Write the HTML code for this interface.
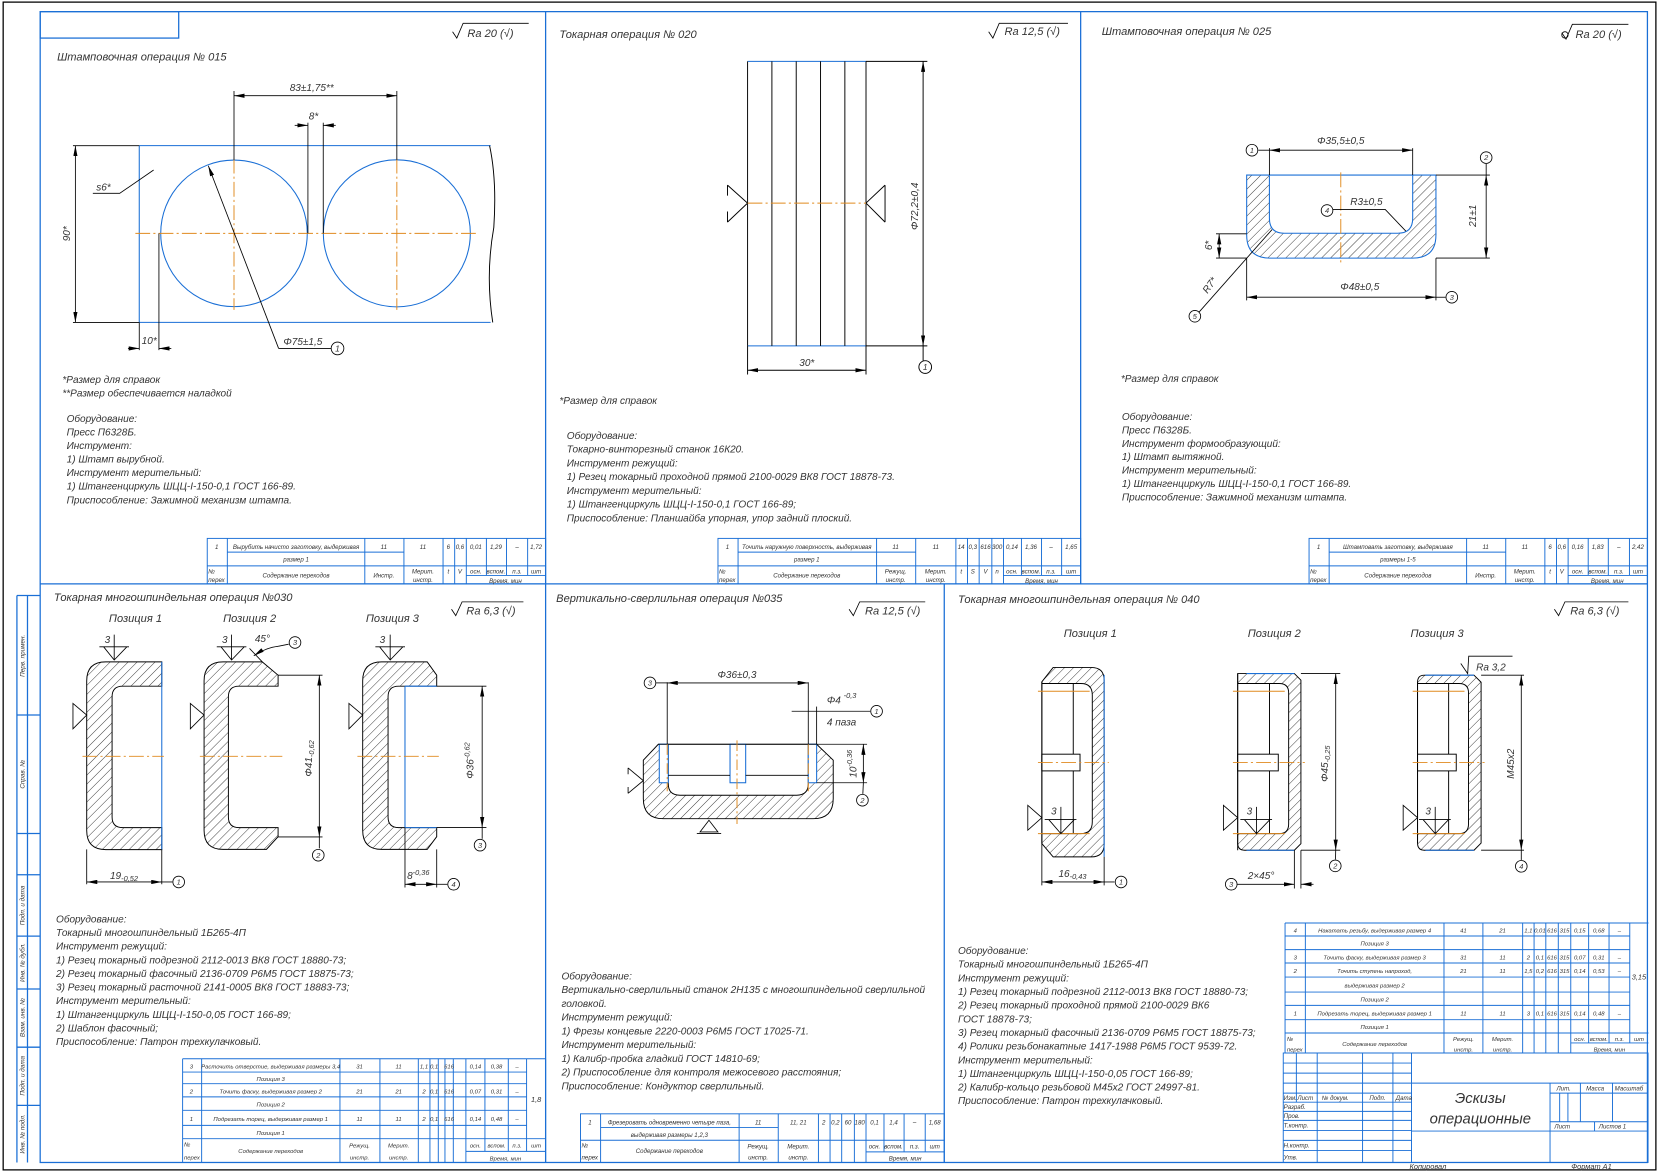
<!DOCTYPE html>
<html><head><meta charset="utf-8"><style>
html,body{margin:0;padding:0;background:#fff;}
svg{display:block;}
text{font-family:"Liberation Sans Narrow","Liberation Sans",sans-serif;font-style:italic;fill:#333;}
</style></head><body>
<svg width="1658" height="1172" viewBox="0 0 1568 1108" preserveAspectRatio="none" xmlns="http://www.w3.org/2000/svg">
<defs>
<pattern id="h" width="6" height="6" patternUnits="userSpaceOnUse" patternTransform="rotate(45)"><line x1="0" y1="0" x2="0" y2="6" stroke="#000" stroke-width="0.7"/></pattern>
<marker id="a" viewBox="0 0 10 4" refX="10" refY="2" markerWidth="10" markerHeight="4" markerUnits="userSpaceOnUse" orient="auto-start-reverse"><path d="M0,0 L10,2 L0,4 Z" fill="#000"/></marker>
</defs>
<rect x="0" y="0" width="1568" height="1108" fill="#fff"/>
<rect x="3" y="2" width="1563" height="1104" fill="none" stroke="#000" stroke-width="1.2"/>
<g stroke="#1a6fd6" stroke-width="1.2" fill="none">
<rect x="38" y="11" width="1520" height="1088"/>
<rect x="38" y="11" width="131" height="25"/>
<line x1="38" y1="552" x2="1558" y2="552"/>
<line x1="516" y1="11" x2="516" y2="1099"/>
<line x1="1022" y1="11" x2="1022" y2="552"/>
<line x1="893" y1="552" x2="893" y2="1099"/>
<line x1="16" y1="563" x2="38" y2="563"/>
<line x1="16" y1="563" x2="16" y2="1099"/>
<line x1="26" y1="563" x2="26" y2="1099"/>
<line x1="16" y1="676" x2="38" y2="676"/>
<line x1="16" y1="788" x2="38" y2="788"/>
<line x1="16" y1="827" x2="38" y2="827"/>
<line x1="16" y1="885" x2="38" y2="885"/>
<line x1="16" y1="935" x2="38" y2="935"/>
<line x1="16" y1="990" x2="38" y2="990"/>
<line x1="16" y1="1045" x2="38" y2="1045"/>
</g>
<g font-size="6">
<text transform="rotate(-90 23 620)" x="23" y="620" text-anchor="middle">Перв. примен.</text>
<text transform="rotate(-90 23 732)" x="23" y="732" text-anchor="middle">Справ. №</text>
<text transform="rotate(-90 23 856)" x="23" y="856" text-anchor="middle">Подп. и дата</text>
<text transform="rotate(-90 23 910)" x="23" y="910" text-anchor="middle">Инв. № дубл.</text>
<text transform="rotate(-90 23 962)" x="23" y="962" text-anchor="middle">Взам. инв. №</text>
<text transform="rotate(-90 23 1017)" x="23" y="1017" text-anchor="middle">Подп. и дата</text>
<text transform="rotate(-90 23 1072)" x="23" y="1072" text-anchor="middle">Инв. № подл.</text>
</g>

<g stroke="#000" stroke-width="0.8" fill="none">
<path d="M428,30 L432,36 L438,22 L500,22"/>
<path d="M935,30 L939,36 L945,22 L1010,22"/>
<path d="M1477,31 L1481,37 L1487,23 L1540,23"/><circle cx="1480" cy="33" r="3"/>
<path d="M427,576 L431,582 L437,569 L495,569"/>
<path d="M803,576 L807,582 L813,569 L875,569"/>
<path d="M1470,576 L1474,582 L1480,569 L1540,569"/>
</g>
<g font-size="10.5">
<text x="442" y="35">Ra 20 (√)</text>
<text x="950" y="33">Ra 12,5 (√)</text>
<text x="1490" y="36">Ra 20 (√)</text>
<text x="441" y="581">Ra 6,3 (√)</text>
<text x="818" y="581">Ra 12,5 (√)</text>
<text x="1485" y="581">Ra 6,3 (√)</text>
</g>

<!-- ===== Section 1 ===== -->
<text x="54" y="57" font-size="10.5">Штамповочная операция № 015</text>
<g fill="none">
<path d="M131.7,137.7 L464,137.7 M131.7,304.8 L464,304.8 M131.7,137.7 L131.7,304.8" stroke="#1a6fd6" stroke-width="1"/>
<path d="M463,137.7 Q470,170 467,215 Q459,260 466,304.8" stroke="#000" stroke-width="0.9"/>
<circle cx="221.3" cy="220.6" r="69.3" stroke="#1a6fd6" stroke-width="1"/>
<circle cx="375.3" cy="220.6" r="69.5" stroke="#1a6fd6" stroke-width="1"/>
<g stroke="#e08a1e" stroke-width="0.9" stroke-dasharray="14 3 2 3">
<line x1="128" y1="220.6" x2="452.6" y2="220.6"/>
<line x1="221.3" y1="150" x2="221.3" y2="293"/>
<line x1="375.3" y1="150" x2="375.3" y2="293"/>
</g>
<g stroke="#000" stroke-width="0.8">
<line x1="221.3" y1="86" x2="221.3" y2="151"/>
<line x1="375.3" y1="86" x2="375.3" y2="151"/>
<line x1="221.3" y1="90.5" x2="375.3" y2="90.5" marker-start="url(#a)" marker-end="url(#a)"/>
<line x1="291.2" y1="116" x2="291.2" y2="220.6"/>
<line x1="305.7" y1="116" x2="305.7" y2="220.6"/>
<line x1="278.7" y1="118.5" x2="291.2" y2="118.5" marker-end="url(#a)"/>
<line x1="317.5" y1="118.5" x2="305.7" y2="118.5" marker-end="url(#a)"/>
<line x1="69" y1="137.7" x2="131.7" y2="137.7"/>
<line x1="69" y1="304.8" x2="131.7" y2="304.8"/>
<line x1="71.3" y1="137.7" x2="71.3" y2="304.8" marker-start="url(#a)" marker-end="url(#a)"/>
<path d="M145.3,160.7 L113.2,182.8 L87.8,182.8"/>
<line x1="131.7" y1="304.8" x2="131.7" y2="331"/>
<line x1="150.3" y1="220.6" x2="150.3" y2="331"/>
<line x1="121" y1="329.4" x2="131.7" y2="329.4" marker-end="url(#a)"/>
<line x1="162" y1="329.4" x2="150.3" y2="329.4" marker-end="url(#a)"/>
<line x1="263.5" y1="329.4" x2="197" y2="156.7" marker-end="url(#a)"/>
<line x1="263.5" y1="329.4" x2="313" y2="329.4"/>
<circle cx="319.2" cy="329.4" r="6"/>
</g>
</g>
<g font-size="9.5">
<text x="274" y="86">83±1,75**</text>
<text x="292" y="113">8*</text>
<text transform="rotate(-90 66 221)" x="66" y="221" text-anchor="middle">90*</text>
<text x="91" y="180">s6*</text>
<text x="134" y="325">10*</text>
<text x="268" y="326">Φ75±1,5</text>
<text x="319.2" y="332.5" text-anchor="middle" font-size="8">1</text>
<text x="59" y="362">*Размер для справок</text>
<text x="59" y="375">**Размер обеспечивается наладкой</text>
</g>
<text x="63" y="399" font-size="9.5"><tspan x="63">Оборудование:</tspan><tspan x="63" dy="12.8">Пресс П6328Б.</tspan><tspan x="63" dy="12.8">Инструмент:</tspan><tspan x="63" dy="12.8">1) Штамп вырубной.</tspan><tspan x="63" dy="12.8">Инструмент мерительный:</tspan><tspan x="63" dy="12.8">1) Штангенциркуль ШЦЦ-I-150-0,1 ГОСТ 166-89.</tspan><tspan x="63" dy="12.8">Приспособление: Зажимной механизм штампа.</tspan></text>

<g stroke="#1a6fd6" stroke-width="0.9" fill="none">
<rect x="196" y="509" width="320" height="43"/>
<line x1="196" y1="535" x2="516" y2="535"/>
<line x1="215" y1="522" x2="382" y2="522"/>
<path d="M215,509V552 M345,509V552 M382,509V552 M419,509V552 M430,509V552 M441,509V552 M460,509V544 M479,509V544 M499,509V544 M441,544H516"/>
</g>
<g font-size="5.8">
<text x="205" y="519" text-anchor="middle">1</text><text x="280" y="519" text-anchor="middle">Вырубить начисто заготовку, выдерживая</text>
<text x="280" y="531" text-anchor="middle">размер 1</text>
<text x="363" y="519" text-anchor="middle">11</text><text x="400" y="519" text-anchor="middle">11</text>
<text x="424" y="519" text-anchor="middle">6</text><text x="435" y="519" text-anchor="middle">0,6</text>
<text x="450" y="519" text-anchor="middle">0,01</text><text x="469" y="519" text-anchor="middle">1,29</text><text x="489" y="519" text-anchor="middle">–</text><text x="507" y="519" text-anchor="middle">1,72</text>
<text x="197" y="542">№</text><text x="197" y="550">перех</text>
<text x="280" y="546" text-anchor="middle">Содержание переходов</text>
<text x="363" y="546" text-anchor="middle">Инстр.</text>
<text x="400" y="542" text-anchor="middle">Мерит.</text><text x="400" y="550" text-anchor="middle">инстр.</text>
<text x="424" y="542" text-anchor="middle">t</text><text x="435" y="542" text-anchor="middle">V</text>
<text x="450" y="542" text-anchor="middle">осн.</text><text x="469" y="542" text-anchor="middle">вспом.</text><text x="489" y="542" text-anchor="middle">п.з.</text><text x="507" y="542" text-anchor="middle">шт</text>
<text x="478" y="551" text-anchor="middle">Время, мин</text>
</g>

<!-- ===== Section 2 ===== -->
<text x="529" y="36" font-size="10.5">Токарная операция № 020</text>
<g fill="none">
<path d="M707,58 L819,58 M707,327 L819,327" stroke="#1a6fd6" stroke-width="1"/>
<g stroke="#000" stroke-width="0.9">
<path d="M707,58V327 M730,58V327 M753,58V327 M776,58V327 M799,58V327 M819,58V327"/>
<path d="M819,58 L877,58 M819,327 L877,327"/>
<line x1="873" y1="58" x2="873" y2="327" marker-start="url(#a)" marker-end="url(#a)"/>
<line x1="873" y1="327" x2="873" y2="341"/>
<circle cx="875" cy="347" r="6"/>
<path d="M707,327V354 M819,327V354"/>
<line x1="707" y1="350" x2="819" y2="350" marker-start="url(#a)" marker-end="url(#a)"/>
<path d="M688,175 L707,192 L688,210 M688,175 V185 M688,200 V210"/>
<path d="M819,192 L837,175 M819,192 L837,210 M837,175 V210"/>
</g>
<line x1="707" y1="192" x2="819" y2="192" stroke="#e08a1e" stroke-width="0.9" stroke-dasharray="14 3 2 3"/>
</g>
<g font-size="9.5">
<text transform="rotate(-90 868 195)" x="868" y="195" text-anchor="middle">Φ72,2±0,4</text>
<text x="875" y="350" text-anchor="middle" font-size="8">1</text>
<text x="763" y="346" text-anchor="middle">30*</text>
<text x="529" y="382">*Размер для справок</text>
</g>
<text x="536" y="415" font-size="9.5"><tspan x="536">Оборудование:</tspan><tspan x="536" dy="13">Токарно-винторезный станок 16К20.</tspan><tspan x="536" dy="13">Инструмент режущий:</tspan><tspan x="536" dy="13">1) Резец токарный проходной прямой 2100-0029 ВК8 ГОСТ 18878-73.</tspan><tspan x="536" dy="13">Инструмент мерительный:</tspan><tspan x="536" dy="13">1) Штангенциркуль ШЦЦ-I-150-0,1 ГОСТ 166-89;</tspan><tspan x="536" dy="13">Приспособление: Планшайба упорная, упор задний плоский.</tspan></text>

<g stroke="#1a6fd6" stroke-width="0.9" fill="none">
<rect x="679" y="509" width="343" height="43"/>
<line x1="679" y1="535" x2="1022" y2="535"/>
<line x1="698" y1="522" x2="866" y2="522"/>
<path d="M698,509V552 M829,509V552 M866,509V552 M904,509V552 M915,509V552 M926,509V552 M938,509V552 M949,509V552 M966,509V544 M985,509V544 M1004,509V544 M949,544H1022"/>
</g>
<g font-size="5.8">
<text x="688" y="519" text-anchor="middle">1</text><text x="763" y="519" text-anchor="middle">Точить наружную поверхность, выдерживая</text>
<text x="763" y="531" text-anchor="middle">размер 1</text>
<text x="847" y="519" text-anchor="middle">11</text><text x="885" y="519" text-anchor="middle">11</text>
<text x="909" y="519" text-anchor="middle">14</text><text x="920" y="519" text-anchor="middle">0,3</text><text x="932" y="519" text-anchor="middle">616</text><text x="943" y="519" text-anchor="middle">300</text>
<text x="957" y="519" text-anchor="middle">0,14</text><text x="975" y="519" text-anchor="middle">1,36</text><text x="994" y="519" text-anchor="middle">–</text><text x="1013" y="519" text-anchor="middle">1,65</text>
<text x="680" y="542">№</text><text x="680" y="550">перех</text>
<text x="763" y="546" text-anchor="middle">Содержание переходов</text>
<text x="847" y="542" text-anchor="middle">Режущ.</text><text x="847" y="550" text-anchor="middle">инстр.</text>
<text x="885" y="542" text-anchor="middle">Мерит.</text><text x="885" y="550" text-anchor="middle">инстр.</text>
<text x="909" y="542" text-anchor="middle">t</text><text x="920" y="542" text-anchor="middle">S</text><text x="932" y="542" text-anchor="middle">V</text><text x="943" y="542" text-anchor="middle">n</text>
<text x="957" y="542" text-anchor="middle">осн.</text><text x="975" y="542" text-anchor="middle">вспом.</text><text x="994" y="542" text-anchor="middle">п.з.</text><text x="1013" y="542" text-anchor="middle">шт</text>
<text x="985" y="551" text-anchor="middle">Время, мин</text>
</g>

<!-- ===== Section 3 ===== -->
<text x="1042" y="33" font-size="10.5">Штамповочная операция № 025</text>
<path d="M1179,165.5 L1358,165.5 L1358,222 Q1358,244 1336,244 L1201,244 Q1179,244 1179,222 Z M1200.5,165.5 L1200.5,206.5 Q1200.5,220.5 1214.5,220.5 L1322,220.5 Q1336,220.5 1336,206.5 L1336,165.5 Z" fill="url(#h)" fill-rule="evenodd" stroke="#1a6fd6" stroke-width="1"/>
<line x1="1268" y1="163" x2="1268" y2="248" stroke="#e08a1e" stroke-width="0.9" stroke-dasharray="14 3 2 3"/>
<g stroke="#000" stroke-width="0.8" fill="none">
<path d="M1200.5,140V165.5 M1336,140V165.5"/>
<line x1="1200.5" y1="142" x2="1336" y2="142" marker-start="url(#a)" marker-end="url(#a)"/>
<line x1="1190" y1="142" x2="1200.5" y2="142"/><circle cx="1184" cy="142" r="5.5"/>
<path d="M1358,165.5H1409 M1358,244H1409"/>
<line x1="1405.5" y1="165.5" x2="1405.5" y2="244" marker-start="url(#a)" marker-end="url(#a)"/>
<line x1="1405.5" y1="155" x2="1405.5" y2="165.5"/><circle cx="1405.5" cy="149" r="5.5"/>
<path d="M1150,221H1179 M1150,244H1179"/>
<line x1="1153" y1="221" x2="1153" y2="244" marker-start="url(#a)" marker-end="url(#a)"/>
<path d="M1179,244V284 M1358,244V284"/>
<line x1="1179" y1="281" x2="1358" y2="281" marker-start="url(#a)" marker-end="url(#a)"/>
<line x1="1358" y1="281" x2="1367" y2="281"/><circle cx="1373" cy="281" r="5.5"/>
<circle cx="1255" cy="199" r="5.5"/>
<path d="M1260.5,198 L1310,198 L1329.6,218.6"/>
<path d="M1134,295 L1203,217"/><circle cx="1130" cy="299" r="5.5"/>
</g>
<g font-size="9.5">
<text x="1268" y="136" text-anchor="middle">Φ35,5±0,5</text>
<text transform="rotate(-90 1396 204)" x="1396" y="204" text-anchor="middle">21±1</text>
<text transform="rotate(-90 1146 232)" x="1146" y="232" text-anchor="middle">6*</text>
<text x="1286" y="274" text-anchor="middle">Φ48±0,5</text>
<text x="1277" y="194">R3±0,5</text>
<text transform="rotate(-55 1142 278)" x="1142" y="278">R7*</text>
<g font-size="7" text-anchor="middle"><text x="1184" y="144.5">1</text><text x="1405.5" y="151.5">2</text><text x="1373" y="283.5">3</text><text x="1255" y="201.5">4</text><text x="1130" y="301.5">5</text></g>
<text x="1060" y="361">*Размер для справок</text>
</g>
<text x="1061" y="397" font-size="9.5"><tspan x="1061">Оборудование:</tspan><tspan x="1061" dy="12.7">Пресс П6328Б.</tspan><tspan x="1061" dy="12.7">Инструмент формообразующий:</tspan><tspan x="1061" dy="12.7">1) Штамп вытяжной.</tspan><tspan x="1061" dy="12.7">Инструмент мерительный:</tspan><tspan x="1061" dy="12.7">1) Штангенциркуль ШЦЦ-I-150-0,1 ГОСТ 166-89.</tspan><tspan x="1061" dy="12.7">Приспособление: Зажимной механизм штампа.</tspan></text>

<g stroke="#1a6fd6" stroke-width="0.9" fill="none">
<rect x="1238" y="509" width="320" height="43"/>
<line x1="1238" y1="535" x2="1558" y2="535"/>
<line x1="1257" y1="522" x2="1424" y2="522"/>
<path d="M1257,509V552 M1387,509V552 M1424,509V552 M1461,509V552 M1472,509V552 M1483,509V552 M1502,509V544 M1521,509V544 M1541,509V544 M1483,544H1558"/>
</g>
<g font-size="5.8">
<text x="1247" y="519" text-anchor="middle">1</text><text x="1322" y="519" text-anchor="middle">Штамповать заготовку, выдерживая</text>
<text x="1322" y="531" text-anchor="middle">размеры 1-5</text>
<text x="1405" y="519" text-anchor="middle">11</text><text x="1442" y="519" text-anchor="middle">11</text>
<text x="1466" y="519" text-anchor="middle">6</text><text x="1477" y="519" text-anchor="middle">0,6</text>
<text x="1492" y="519" text-anchor="middle">0,16</text><text x="1511" y="519" text-anchor="middle">1,83</text><text x="1531" y="519" text-anchor="middle">–</text><text x="1549" y="519" text-anchor="middle">2,42</text>
<text x="1239" y="542">№</text><text x="1239" y="550">перех</text>
<text x="1322" y="546" text-anchor="middle">Содержание переходов</text>
<text x="1405" y="546" text-anchor="middle">Инстр.</text>
<text x="1442" y="542" text-anchor="middle">Мерит.</text><text x="1442" y="550" text-anchor="middle">инстр.</text>
<text x="1466" y="542" text-anchor="middle">t</text><text x="1477" y="542" text-anchor="middle">V</text>
<text x="1492" y="542" text-anchor="middle">осн.</text><text x="1511" y="542" text-anchor="middle">вспом.</text><text x="1531" y="542" text-anchor="middle">п.з.</text><text x="1549" y="542" text-anchor="middle">шт</text>
<text x="1520" y="551" text-anchor="middle">Время, мин</text>
</g>

<!-- ===== Section 4 ===== -->
<text x="51" y="568" font-size="10.5">Токарная многошпиндельная операция №030</text>
<g font-size="10.5"><text x="103" y="588">Позиция 1</text><text x="211" y="588">Позиция 2</text><text x="346" y="588">Позиция 3</text></g>
<g fill="url(#h)" stroke="#000" stroke-width="0.9">
<path d="M153,625.7 L100,625.7 Q82,625.7 82,643.7 L82,785.2 Q82,803.2 100,803.2 L153,803.2 L153,782.4 L116,782.4 Q106,782.4 106,772.4 L106,658.7 Q106,648.7 116,648.7 L153,648.7 Z"/>
<path d="M248,625.7 L211,625.7 Q193,625.7 193,643.7 L193,785 Q193,803 211,803 L252,803 L263,791 L263,782.4 L226,782.4 Q216,782.4 216,772.4 L216,658.7 Q216,648.7 226,648.7 L263,648.7 L263,638.3 Z"/>
<path d="M404,625.7 L361,625.7 Q343,625.7 343,643.7 L343,785 Q343,803 361,803 L404,803 L413,791 L413,782.4 L377,782.4 Q367,782.4 367,772.4 L367,658.7 Q367,648.7 377,648.7 L413,648.7 L413,638.3 Z"/>
</g>
<g stroke="#1a6fd6" stroke-width="1" fill="none">
<line x1="153" y1="625.7" x2="153" y2="803.2"/>
<path d="M383,648.7 V782.4 M383,648.7 H413 M383,782.4 H413"/>
</g>
<g stroke="#e08a1e" stroke-width="0.9" stroke-dasharray="14 3 2 3">
<line x1="78" y1="715" x2="155" y2="715"/><line x1="189" y1="715" x2="267" y2="715"/><line x1="338" y1="715" x2="415" y2="715"/>
</g>
<g stroke="#000" stroke-width="0.8" fill="none">
<path d="M108,600 V624 M98,611.5 L108,624 L120,611.5 M94,611.5 H122"/>
<path d="M219,600 V624 M209,611.5 L219,624 L231,611.5 M205,611.5 H233"/>
<path d="M369,600 V624 M359,611.5 L369,624 L381,611.5 M355,611.5 H383"/>
<path d="M69,665 L82,676 L69,689 Z"/>
<path d="M180,665 L193,676 L180,689 Z"/>
<path d="M330,665 L343,676 L330,689 Z"/>
<path d="M82,803 V836 M153,803 V836"/>
<line x1="82" y1="833.8" x2="153" y2="833.8" marker-start="url(#a)" marker-end="url(#a)"/>
<line x1="153" y1="833.8" x2="163" y2="833.8"/><circle cx="169" cy="833.8" r="5.5"/>
<path d="M263,638.3 H305 M263,791.2 H305"/>
<line x1="302" y1="638.3" x2="302" y2="791.2" marker-start="url(#a)" marker-end="url(#a)"/>
<line x1="302" y1="791.2" x2="302" y2="802"/><circle cx="301" cy="808.5" r="5.5"/>
<path d="M240,620 Q252,612 263,611" marker-start="url(#a)"/>
<line x1="263" y1="611" x2="273" y2="609"/><circle cx="279" cy="607.4" r="5.5"/>
<line x1="248" y1="625.7" x2="236" y2="613"/>
<path d="M413,648.7 H460 M413,782.4 H460"/>
<line x1="456" y1="648.7" x2="456" y2="782.4" marker-start="url(#a)" marker-end="url(#a)"/>
<line x1="456" y1="782.4" x2="456" y2="793"/><circle cx="454" cy="799" r="5.5"/>
<path d="M383,782.4 V839 M413,803 V839"/>
<line x1="383" y1="836" x2="413" y2="836" marker-start="url(#a)" marker-end="url(#a)"/>
<line x1="413" y1="836" x2="423" y2="836"/><circle cx="429" cy="836" r="5.5"/>
</g>
<g font-size="9.5">
<text x="99" y="608">3</text><text x="210" y="608">3</text><text x="359" y="608">3</text>
<text x="104" y="831">19<tspan font-size="7" dy="2">-0,52</tspan></text>
<text transform="rotate(-90 295 717)" x="295" y="717" text-anchor="middle">Φ41<tspan font-size="7" dy="2">-0,62</tspan></text>
<text x="241" y="607">45°</text>
<text transform="rotate(-90 448 719)" x="448" y="719" text-anchor="middle">Φ36<tspan font-size="7" dy="-4">-0,62</tspan></text>
<text x="385" y="831">8<tspan font-size="7" dy="-4">-0,36</tspan></text>
<g font-size="7" text-anchor="middle"><text x="169" y="836.3">1</text><text x="301" y="811">2</text><text x="279" y="610">3</text><text x="454" y="801.5">3</text><text x="429" y="838.5">4</text></g>
</g>
<text x="53" y="872" font-size="9.5"><tspan x="53">Оборудование:</tspan><tspan x="53" dy="12.9">Токарный многошпиндельный 1Б265-4П</tspan><tspan x="53" dy="12.9">Инструмент режущий:</tspan><tspan x="53" dy="12.9">1) Резец токарный подрезной 2112-0013 ВК8 ГОСТ 18880-73;</tspan><tspan x="53" dy="12.9">2) Резец токарный фасочный 2136-0709 Р6М5 ГОСТ 18875-73;</tspan><tspan x="53" dy="12.9">3) Резец токарный расточной 2141-0005 ВК8 ГОСТ 18883-73;</tspan><tspan x="53" dy="12.9">Инструмент мерительный:</tspan><tspan x="53" dy="12.9">1) Штангенциркуль ШЦЦ-I-150-0,05 ГОСТ 166-89;</tspan><tspan x="53" dy="12.9">2) Шаблон фасочный;</tspan><tspan x="53" dy="12.9">Приспособление: Патрон трехкулачковый.</tspan></text>

<g stroke="#1a6fd6" stroke-width="0.9" fill="none">
<path d="M172.7,1000.9 H498 M172.7,1013.5 H498 M172.7,1024.5 H498 M172.7,1037 H498 M172.7,1049.7 H498 M172.7,1063.9 H498 M172.7,1076.5 H516 M440.6,1088.5 H516"/>
<path d="M172.7,1000.9 V1099 M190.7,1000.9 V1099 M321.5,1000.9 V1099 M359.3,1000.9 V1099 M395.6,1000.9 V1099 M406.6,1000.9 V1099 M414.5,1000.9 V1099 M420.8,1000.9 V1099 M428.7,1000.9 V1099 M440.6,1000.9 V1099 M458.6,1000.9 V1088.5 M480.7,1000.9 V1088.5 M498,1000.9 V1088.5 M516,1000.9 V1099"/>
<path d="M498,1000.9 H516"/>
</g>
<g font-size="5.6">
<text x="181" y="1010" text-anchor="middle">3</text><text x="256" y="1010" text-anchor="middle">Расточить отверстие, выдерживая размеры 3,4</text><text x="340" y="1010" text-anchor="middle">31</text><text x="377" y="1010" text-anchor="middle">11</text><text x="401" y="1010" text-anchor="middle">1,1</text><text x="410.5" y="1010" text-anchor="middle">0,1</text><text x="424.7" y="1010" text-anchor="middle">616</text><text x="449.6" y="1010" text-anchor="middle">0,14</text><text x="469.6" y="1010" text-anchor="middle">0,38</text><text x="489" y="1010" text-anchor="middle">–</text>
<text x="256" y="1022" text-anchor="middle">Позиция 3</text>
<text x="181" y="1034" text-anchor="middle">2</text><text x="256" y="1034" text-anchor="middle">Точить фаску, выдерживая размер 2</text><text x="340" y="1034" text-anchor="middle">21</text><text x="377" y="1034" text-anchor="middle">21</text><text x="401" y="1034" text-anchor="middle">2</text><text x="410.5" y="1034" text-anchor="middle">0,1</text><text x="424.7" y="1034" text-anchor="middle">616</text><text x="449.6" y="1034" text-anchor="middle">0,07</text><text x="469.6" y="1034" text-anchor="middle">0,31</text><text x="489" y="1034" text-anchor="middle">–</text>
<text x="256" y="1046" text-anchor="middle">Позиция 2</text>
<text x="181" y="1060" text-anchor="middle">1</text><text x="256" y="1060" text-anchor="middle">Подрезать торец, выдерживая размер 1</text><text x="340" y="1060" text-anchor="middle">11</text><text x="377" y="1060" text-anchor="middle">11</text><text x="401" y="1060" text-anchor="middle">2</text><text x="410.5" y="1060" text-anchor="middle">0,1</text><text x="424.7" y="1060" text-anchor="middle">616</text><text x="449.6" y="1060" text-anchor="middle">0,14</text><text x="469.6" y="1060" text-anchor="middle">0,48</text><text x="489" y="1060" text-anchor="middle">–</text>
<text x="256" y="1073" text-anchor="middle">Позиция 1</text>
<text x="507" y="1042" text-anchor="middle" font-size="7">1,8</text>
<text x="174" y="1084">№</text><text x="174" y="1096">перех</text>
<text x="256" y="1090" text-anchor="middle">Содержание переходов</text>
<text x="340" y="1085" text-anchor="middle">Режущ.</text><text x="340" y="1096" text-anchor="middle">инстр.</text>
<text x="377" y="1085" text-anchor="middle">Мерит.</text><text x="377" y="1096" text-anchor="middle">инстр.</text>
<text x="449.6" y="1085" text-anchor="middle">осн.</text><text x="469.6" y="1085" text-anchor="middle">вспом.</text><text x="489" y="1085" text-anchor="middle">п.з.</text><text x="507" y="1085" text-anchor="middle">шт</text>
<text x="478" y="1097" text-anchor="middle">Время, мин</text>
</g>

<!-- ===== Section 5 ===== -->
<text x="526" y="569" font-size="10.5">Вертикально-сверлильная операция №035</text>
<path d="M622.6,703.6 L772.3,703.6 L788,718.7 L788,755 Q788,774 769,774 L627.4,774 Q608.4,774 608.4,755 L608.4,718.7 Z M632,703.6 L632,741 Q632,751.8 643,751.8 L753.4,751.8 Q764.4,751.8 764.4,741 L764.4,703.6 Z" fill="url(#h)" fill-rule="evenodd" stroke="#000" stroke-width="0.9"/>
<g stroke="#1a6fd6" stroke-width="1" fill="#fff">
<rect x="623.5" y="703.6" width="8.5" height="36.4"/>
<rect x="764.4" y="703.6" width="7.9" height="36.4"/>
<rect x="690.4" y="703.6" width="14.8" height="36.4"/>
</g>
<g stroke="#000" stroke-width="0.8" fill="none">
<line x1="622.6" y1="703.6" x2="772.3" y2="703.6"/>
<path d="M632,733 H690.4 M705.2,733 H764.4"/>
<path d="M631,645 V703.6 M764.4,645 V703.6"/>
<line x1="631" y1="645.6" x2="764.4" y2="645.6" marker-start="url(#a)" marker-end="url(#a)"/>
<line x1="620.5" y1="645.6" x2="631" y2="645.6"/><circle cx="614.7" cy="645.6" r="5.5"/>
<path d="M772.3,668 V703.6"/>
<line x1="748.7" y1="672.4" x2="823" y2="672.4"/><circle cx="829" cy="672.4" r="5.5"/>
<path d="M772.3,703.6 H820 M772.3,740 H820"/>
<line x1="816.5" y1="703.6" x2="816.5" y2="740" marker-start="url(#a)" marker-end="url(#a)"/>
<line x1="816.5" y1="740" x2="816" y2="750.5"/><circle cx="815.6" cy="756.5" r="5.5"/>
<path d="M594,726 L608.4,738 L594,750 M594,726 V732 M594,744 V750"/>
<path d="M670.5,775.5 L662,786.5 L679,786.5 Z M659,788 H682"/>
</g>
<g stroke="#e08a1e" stroke-width="0.9" stroke-dasharray="10 3 2 3">
<line x1="697" y1="700" x2="697" y2="779"/><line x1="631" y1="703.6" x2="631" y2="748"/><line x1="764.4" y1="703.6" x2="764.4" y2="748"/>
</g>
<g font-size="9.5">
<text x="697" y="641" text-anchor="middle">Φ36±0,3</text>
<text x="782" y="665">Φ4 <tspan font-size="7" dy="-5">-0,3</tspan></text>
<text x="782" y="686">4 паза</text>
<text transform="rotate(-90 810 722)" x="810" y="722" text-anchor="middle">10<tspan font-size="7" dy="-4">-0,36</tspan></text>
<g font-size="7" text-anchor="middle"><text x="614.7" y="648">3</text><text x="829" y="675">1</text><text x="815.6" y="759">2</text></g>
</g>
<text x="531" y="926" font-size="9.5"><tspan x="531">Оборудование:</tspan><tspan x="531" dy="13">Вертикально-сверлильный станок 2Н135 с многошпиндельной сверлильной</tspan><tspan x="531" dy="13">головкой.</tspan><tspan x="531" dy="13">Инструмент режущий:</tspan><tspan x="531" dy="13">1) Фрезы концевые 2220-0003 Р6М5 ГОСТ 17025-71.</tspan><tspan x="531" dy="13">Инструмент мерительный:</tspan><tspan x="531" dy="13">1) Калибр-пробка гладкий ГОСТ 14810-69;</tspan><tspan x="531" dy="13">2) Приспособление для контроля межосевого расстояния;</tspan><tspan x="531" dy="13">Приспособление: Кондуктор сверлильный.</tspan></text>

<g stroke="#1a6fd6" stroke-width="0.9" fill="none">
<rect x="549" y="1053" width="344" height="46"/>
<line x1="549" y1="1078" x2="893" y2="1078"/>
<line x1="568" y1="1066" x2="736" y2="1066"/>
<path d="M568,1053V1099 M699,1053V1099 M736,1053V1099 M774,1053V1099 M785,1053V1099 M796,1053V1099 M808,1053V1099 M819,1053V1099 M836,1053V1089 M855,1053V1089 M875,1053V1089 M819,1089H893"/>
</g>
<g font-size="5.8">
<text x="558" y="1063" text-anchor="middle">1</text><text x="633" y="1063" text-anchor="middle">Фрезеровать одновременно четыре паза,</text>
<text x="633" y="1075" text-anchor="middle">выдерживая размеры 1,2,3</text>
<text x="717" y="1063" text-anchor="middle">11</text><text x="755" y="1063" text-anchor="middle">11, 21</text>
<text x="779" y="1063" text-anchor="middle">2</text><text x="790" y="1063" text-anchor="middle">0,2</text><text x="802" y="1063" text-anchor="middle">60</text><text x="813" y="1063" text-anchor="middle">180</text>
<text x="827" y="1063" text-anchor="middle">0,1</text><text x="845" y="1063" text-anchor="middle">1,4</text><text x="865" y="1063" text-anchor="middle">–</text><text x="884" y="1063" text-anchor="middle">1,68</text>
<text x="550" y="1085">№</text><text x="550" y="1096">перех</text>
<text x="633" y="1090" text-anchor="middle">Содержание переходов</text>
<text x="717" y="1086" text-anchor="middle">Режущ.</text><text x="717" y="1096" text-anchor="middle">инстр.</text>
<text x="755" y="1086" text-anchor="middle">Мерит.</text><text x="755" y="1096" text-anchor="middle">инстр.</text>
<text x="827" y="1086" text-anchor="middle">осн.</text><text x="845" y="1086" text-anchor="middle">вспом.</text><text x="865" y="1086" text-anchor="middle">п.з.</text><text x="884" y="1086" text-anchor="middle">шт</text>
<text x="856" y="1097" text-anchor="middle">Время, мин</text>
</g>

<!-- ===== Section 6 ===== -->
<text x="906" y="570" font-size="10.5">Токарная многошпиндельная операция № 040</text>
<g font-size="10.5"><text x="1006" y="602">Позиция 1</text><text x="1180" y="602">Позиция 2</text><text x="1334" y="602">Позиция 3</text></g>
<g fill="url(#h)" stroke="#000" stroke-width="0.9" fill-rule="evenodd">
<path d="M996,631 L1032,631 Q1044.2,631 1044.2,643 L1044.2,798 Q1044.2,810.1 1032,810.1 L996,810.1 L985.3,797.5 L985.3,644.6 Z M985.3,646.2 L1022,646.2 Q1033,646.2 1033,657 L1033,777 Q1033,788.1 1022,788.1 L985.3,788.1 Z"/>
<path d="M1170.5,636.8 L1224.1,636.8 L1230.3,643 L1230.3,797.6 L1224.1,803.8 L1177,803.8 Q1170.5,803.8 1170.5,797 Z M1170.5,646.2 L1209.7,646.2 Q1218.7,646.2 1218.7,655 L1218.7,779 Q1218.7,788.1 1209.7,788.1 L1170.5,788.1 Z"/>
<path d="M1347,638.3 L1394,638.3 L1400.7,645 L1400.7,797 L1394,803.8 L1347,803.8 Q1340.6,803.8 1340.6,797 L1340.6,645 Q1340.6,638.3 1347,638.3 Z M1340.6,646.2 L1379.8,646.2 Q1388.8,646.2 1388.8,655 L1388.8,779 Q1388.8,788.1 1379.8,788.1 L1340.6,788.1 Z"/>
</g>
<g stroke="#000" stroke-width="0.9" fill="#fff">
<rect x="985.3" y="713" width="36.1" height="15.8"/>
<rect x="1170.5" y="713" width="38.4" height="15.8"/>
<rect x="1340.6" y="713" width="36.6" height="15.8"/>
</g>
<g stroke="#000" stroke-width="0.9" fill="none">
<path d="M1015,646.2 V713 M1015,728.8 V788.1 M985.3,644.6 V797.5"/>
<path d="M1200.6,646.2 V713 M1200.6,728.8 V788.1 M1170.5,636.8 V803.8"/>
<path d="M1370,646.2 V713 M1370,728.8 V788.1 M1340.6,645 V797"/>
</g>
<g stroke="#1a6fd6" stroke-width="1" fill="none">
<line x1="1044.2" y1="638" x2="1044.2" y2="810"/>
<path d="M1178.8,636.8 H1224 M1178.8,803.8 H1224"/>
<path d="M1348,638.3 H1394 M1348,803.8 H1394"/>
</g>
<g stroke="#e08a1e" stroke-width="0.9">
<path d="M981.6,653.5 H1030.5 M981.6,788.1 H1030.5 M1166,653.5 H1215 M1166,788.1 H1215 M1336,653.5 H1385 M1336,788.1 H1385"/>
<g stroke-dasharray="14 3 2 3"><path d="M981.6,720.9 H1048.6 M1166,720.9 H1234 M1336,720.9 H1404"/></g>
</g>
<g stroke="#000" stroke-width="0.8" fill="none">
<path d="M972,761.3 L985.3,773 L972,784.9 Z"/>
<path d="M1157,761.3 L1170.5,773 L1157,784.9 Z"/>
<path d="M1327,761.3 L1340.6,773 L1327,784.9 Z"/>
<path d="M1003.3,762.8 V788 M991.8,774.8 L1003.3,788.1 L1016,774.8 M988,774.8 H1018"/>
<path d="M1188.3,762.8 V788 M1176.8,774.8 L1188.3,788.1 L1201,774.8 M1173,774.8 H1203"/>
<path d="M1357.3,762.8 V788 M1345.8,774.8 L1357.3,788.1 L1370,774.8 M1342,774.8 H1372"/>
<path d="M985.3,797.5 V837 M1044.2,810 V837"/>
<line x1="985.3" y1="833.8" x2="1044.2" y2="833.8" marker-start="url(#a)" marker-end="url(#a)"/>
<line x1="1044.2" y1="833.8" x2="1054" y2="833.8"/><circle cx="1060.2" cy="833.8" r="5.5"/>
<path d="M1230.3,636.8 H1267.5 M1230.3,803.8 H1267.5"/>
<line x1="1263.2" y1="636.8" x2="1263.2" y2="803.8" marker-start="url(#a)" marker-end="url(#a)"/>
<line x1="1263.2" y1="803.8" x2="1263" y2="812.5"/><circle cx="1262.8" cy="818.6" r="5.5"/>
<path d="M1224.1,803.8 V840 M1230.3,803.8 V840"/>
<line x1="1170" y1="836" x2="1224.1" y2="836" marker-end="url(#a)"/>
<line x1="1242.2" y1="836" x2="1230.3" y2="836" marker-end="url(#a)"/>
<circle cx="1164.4" cy="836" r="5.5"/>
<path d="M1400.7,638.3 H1441.3 M1400.7,803.8 H1441.3"/>
<line x1="1438.7" y1="638.3" x2="1438.7" y2="803.8" marker-start="url(#a)" marker-end="url(#a)"/>
<line x1="1438.7" y1="803.8" x2="1438.7" y2="813"/><circle cx="1438.7" cy="819" r="5.5"/>
<path d="M1381.5,627.3 L1388,636.8 L1389,620.4 H1430.4"/>
</g>
<g font-size="9.5">
<text x="994" y="770">3</text><text x="1179" y="770">3</text><text x="1348" y="770">3</text>
<text x="1001" y="829">16<tspan font-size="7" dy="2">-0,43</tspan></text>
<text transform="rotate(-90 1256 722)" x="1256" y="722" text-anchor="middle">Φ45<tspan font-size="7" dy="2">-0,25</tspan></text>
<text x="1180" y="831">2×45°</text>
<text transform="rotate(-90 1432 722)" x="1432" y="722" text-anchor="middle">M45x2</text>
<text x="1396" y="634">Ra 3,2</text>
<g font-size="7" text-anchor="middle"><text x="1060.2" y="836.3">1</text><text x="1262.8" y="821">2</text><text x="1164.4" y="838.5">3</text><text x="1438.7" y="821.5">4</text></g>
</g>
<text x="906" y="902" font-size="9.5"><tspan x="906">Оборудование:</tspan><tspan x="906" dy="12.9">Токарный многошпиндельный 1Б265-4П</tspan><tspan x="906" dy="12.9">Инструмент режущий:</tspan><tspan x="906" dy="12.9">1) Резец токарный подрезной 2112-0013 ВК8 ГОСТ 18880-73;</tspan><tspan x="906" dy="12.9">2) Резец токарный проходной прямой 2100-0029 ВК6</tspan><tspan x="906" dy="12.9">ГОСТ 18878-73;</tspan><tspan x="906" dy="12.9">3) Резец токарный фасочный 2136-0709 Р6М5 ГОСТ 18875-73;</tspan><tspan x="906" dy="12.9">4) Ролики резьбонакатные 1417-1988 Р6М5 ГОСТ 9539-72.</tspan><tspan x="906" dy="12.9">Инструмент мерительный:</tspan><tspan x="906" dy="12.9">1) Штангенциркуль ШЦЦ-I-150-0,05 ГОСТ 166-89;</tspan><tspan x="906" dy="12.9">2) Калибр-кольцо резьбовой М45х2 ГОСТ 24997-81.</tspan><tspan x="906" dy="12.9">Приспособление: Патрон трехкулачковый.</tspan></text>

<g stroke="#1a6fd6" stroke-width="0.9" fill="none">
<path d="M1215.3,872.6 H1559 M1215.3,884.9 H1541.3 M1215.3,897.8 H1541.3 M1215.3,910.4 H1541.3 M1215.3,923.7 H1541.3 M1215.3,937.9 H1541.3 M1215.3,950.5 H1541.3 M1215.3,964 H1541.3 M1215.3,976.6 H1559 M1485.5,986 H1559 M1215.3,995.5 H1559"/>
<path d="M1215.3,872.6 V995.5 M1234.5,872.6 V995.5 M1365.6,872.6 V995.5 M1402.4,872.6 V995.5 M1440,872.6 V995.5 M1450.8,872.6 V995.5 M1461.9,872.6 V995.5 M1473.7,872.6 V995.5 M1485.5,872.6 V995.5 M1502.4,872.6 V986 M1521.7,872.6 V986 M1541.3,872.6 V986"/>
</g>
<g font-size="5.6">
<text x="1225" y="881.5" text-anchor="middle">4</text><text x="1300" y="881.5" text-anchor="middle">Накатать резьбу, выдерживая размер 4</text><text x="1384" y="881.5" text-anchor="middle">41</text><text x="1421" y="881.5" text-anchor="middle">21</text><text x="1445.4" y="881.5" text-anchor="middle">1,1</text><text x="1456.3" y="881.5" text-anchor="middle">0,01</text><text x="1467.8" y="881.5" text-anchor="middle">616</text><text x="1479.6" y="881.5" text-anchor="middle">315</text><text x="1494" y="881.5" text-anchor="middle">0,15</text><text x="1512" y="881.5" text-anchor="middle">0,68</text><text x="1531.5" y="881.5" text-anchor="middle">–</text>
<text x="1300" y="894" text-anchor="middle">Позиция 3</text>
<text x="1225" y="907" text-anchor="middle">3</text><text x="1300" y="907" text-anchor="middle">Точить фаску, выдерживая размер 3</text><text x="1384" y="907" text-anchor="middle">31</text><text x="1421" y="907" text-anchor="middle">11</text><text x="1445.4" y="907" text-anchor="middle">2</text><text x="1456.3" y="907" text-anchor="middle">0,1</text><text x="1467.8" y="907" text-anchor="middle">616</text><text x="1479.6" y="907" text-anchor="middle">315</text><text x="1494" y="907" text-anchor="middle">0,07</text><text x="1512" y="907" text-anchor="middle">0,31</text><text x="1531.5" y="907" text-anchor="middle">–</text>
<text x="1225" y="920" text-anchor="middle">2</text><text x="1300" y="920" text-anchor="middle">Точить ступень напроход,</text><text x="1384" y="920" text-anchor="middle">21</text><text x="1421" y="920" text-anchor="middle">11</text><text x="1445.4" y="920" text-anchor="middle">1,5</text><text x="1456.3" y="920" text-anchor="middle">0,2</text><text x="1467.8" y="920" text-anchor="middle">616</text><text x="1479.6" y="920" text-anchor="middle">315</text><text x="1494" y="920" text-anchor="middle">0,14</text><text x="1512" y="920" text-anchor="middle">0,53</text><text x="1531.5" y="920" text-anchor="middle">–</text>
<text x="1300" y="933.5" text-anchor="middle">выдерживая размер 2</text>
<text x="1300" y="947" text-anchor="middle">Позиция 2</text>
<text x="1225" y="960" text-anchor="middle">1</text><text x="1300" y="960" text-anchor="middle">Подрезать торец, выдерживая размер 1</text><text x="1384" y="960" text-anchor="middle">11</text><text x="1421" y="960" text-anchor="middle">11</text><text x="1445.4" y="960" text-anchor="middle">3</text><text x="1456.3" y="960" text-anchor="middle">0,1</text><text x="1467.8" y="960" text-anchor="middle">616</text><text x="1479.6" y="960" text-anchor="middle">315</text><text x="1494" y="960" text-anchor="middle">0,14</text><text x="1512" y="960" text-anchor="middle">0,48</text><text x="1531.5" y="960" text-anchor="middle">–</text>
<text x="1300" y="973" text-anchor="middle">Позиция 1</text>
<text x="1550" y="926" text-anchor="middle" font-size="7">3,15</text>
<text x="1217" y="984">№</text><text x="1217" y="994">перех</text>
<text x="1300" y="989" text-anchor="middle">Содержание переходов</text>
<text x="1384" y="984" text-anchor="middle">Режущ.</text><text x="1384" y="994" text-anchor="middle">инстр.</text>
<text x="1421" y="984" text-anchor="middle">Мерит.</text><text x="1421" y="994" text-anchor="middle">инстр.</text>
<text x="1494" y="984" text-anchor="middle">осн.</text><text x="1512" y="984" text-anchor="middle">вспом.</text><text x="1531.5" y="984" text-anchor="middle">п.з.</text><text x="1550" y="984" text-anchor="middle">шт</text>
<text x="1522" y="994" text-anchor="middle">Время, мин</text>
</g>

<g stroke="#1a6fd6" stroke-width="0.9" fill="none">
<rect x="1213.6" y="995.5" width="345" height="103.5"/>
<path d="M1213.6,1005 H1334.9 M1213.6,1014.5 H1334.9 M1213.6,1024 H1559 M1213.6,1033.4 H1334.9 M1213.6,1042 H1334.9 M1213.6,1050.7 H1334.9 M1213.6,1059.2 H1334.9 M1213.6,1068.7 H1334.9 M1213.6,1078.1 H1334.9 M1213.6,1087.6 H1334.9"/>
<path d="M1226,995.5 V1042 M1245.7,995.5 V1099 M1288.6,995.5 V1099 M1317.3,995.5 V1099 M1334.9,995.5 V1099"/>
<path d="M1334.9,1069.3 H1559 M1465.9,1024 V1099 M1465.9,1033.4 H1559 M1465.9,1060.5 H1559 M1494.6,1024 V1060.5 M1525,1024 V1060.5 M1475,1033.4 V1060.5 M1482.8,1033.4 V1060.5 M1508,1060.5 V1069.3"/>
</g>
<g font-size="5.8">
<text x="1214" y="1040">Изм.</text><text x="1227" y="1040">Лист</text><text x="1250" y="1040">№ докум.</text><text x="1295" y="1040">Подп.</text><text x="1320" y="1040">Дата</text>
<text x="1214" y="1048.5">Разраб.</text><text x="1214" y="1057">Пров.</text><text x="1214" y="1066">Т.контр.</text><text x="1214" y="1085">Н.контр.</text><text x="1214" y="1096">Утв.</text>
<text x="1472" y="1031">Лит.</text><text x="1500" y="1031">Масса</text><text x="1527" y="1031">Масштаб</text>
<text x="1470" y="1067">Лист</text><text x="1512" y="1067">Листов 1</text>
</g>
<text x="1400" y="1043" font-size="14" text-anchor="middle">Эскизы</text>
<text x="1400" y="1062" font-size="14" text-anchor="middle">операционные</text>
<text x="1333" y="1105" font-size="7">Копировал</text>
<text x="1486" y="1105" font-size="7">Формат А1</text>
</svg>
</body></html>
